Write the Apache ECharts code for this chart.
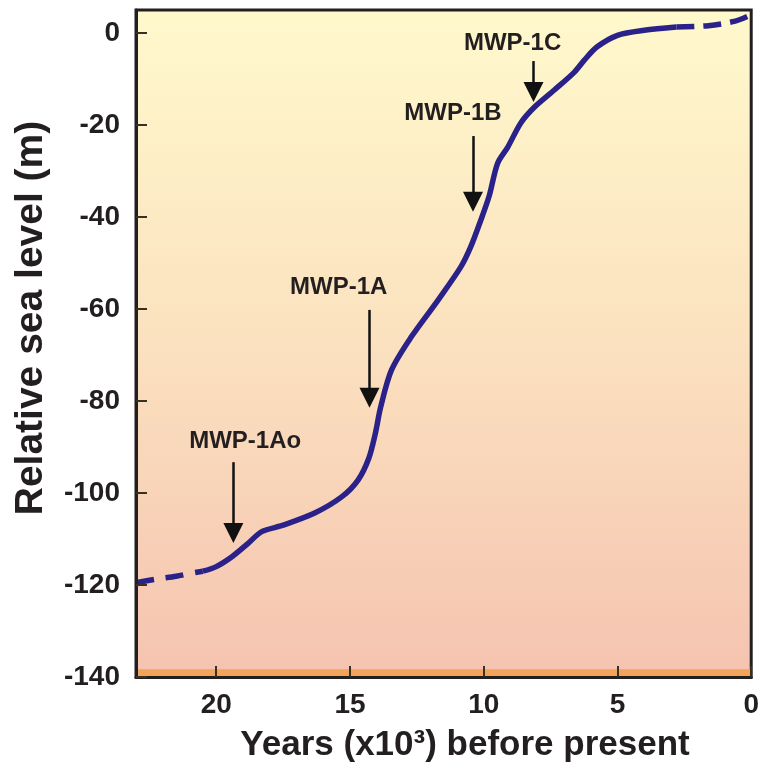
<!DOCTYPE html>
<html><head><meta charset="utf-8">
<script src="https://cdn.jsdelivr.net/npm/echarts@6/dist/echarts.min.js"></script>
<style>html,body{margin:0;padding:0;background:#fff}#c{width:762px;height:768px}</style>
</head><body><div id="c"></div>
<script>
// Tick values
const xTicks = [0, 5, 10, 15, 20];
const yTicks = [0, -20, -40, -60, -80, -100, -120, -140];
// Sea-level curve (age in kyr BP, relative sea level in m)
const earlyDashed = [[23, -119.5], [22.2, -118.7], [21.5, -118.1], [20.9, -117.4], [20.5, -117.0]];
const mainCurve = [[20.5, -117.0], [20.0, -116.0], [19.4, -113.8], [18.8, -110.9], [18.3, -108.4], [17.5, -107.0],
  [16.3, -104.3], [15.3, -100.8], [14.7, -97.2], [14.3, -92.5], [14.05, -87], [13.86, -81.5], [13.45, -73.3],
  [12.7, -66], [11.7, -58], [10.85, -50.8], [10.48, -46.4], [10.11, -40.7], [9.8, -35.5], [9.48, -28.3],
  [9.1, -24.8], [8.62, -19.6], [8.1, -16.1], [7.36, -12.4], [6.61, -8.5], [6.24, -5.9], [5.76, -3.0],
  [5.0, -0.5], [4.0, 0.6], [2.8, 1.3]];
const lateDashed = [[2.8, 1.3], [1.6, 1.6], [0.6, 2.6], [0, 4.0]];
// Meltwater pulse annotations
const eventNames = ['MWP-1Ao', 'MWP-1A', 'MWP-1B', 'MWP-1C'];
const eventAge = [19.36, 14.27, 10.40, 8.14];
const arrowTop = [-93.3, -60.2, -22.4, -6.1];
const arrowHead = [-108.7, -79.3, -36.7, -12.8];
const labelAge = [18.92, 15.42, 11.15, 8.92];
const labelLevel = [-88.7, -55.2, -17.4, -2.2];
// Orange floor band
const bandRange = [-140, -138.3];

const FONT = '"Liberation Sans", Arial, Helvetica, sans-serif';
const INK = '#231f20';
const CURVE = '#2a2289';

const chart = echarts.init(document.getElementById('c'), null, {renderer: 'canvas'});
const option = {
  animation: false,
  grid: {
    left: 136, right: 7, top: 10, bottom: 91,
    show: true, borderColor: INK, borderWidth: 3,
    backgroundColor: {type: 'linear', x: 0, y: 0, x2: 0, y2: 1,
      colorStops: [{offset: 0, color: '#fff9cc'}, {offset: 0.5, color: '#fbe1bf'}, {offset: 1, color: '#f5c3b0'}]}
  },
  xAxis: {
    type: 'value', inverse: true, min: 0, max: 23, z: 10,
    axisLine: {show: true, onZero: false, lineStyle: {color: INK, width: 3}},
    axisTick: {show: true, inside: true, length: 11, customValues: xTicks, lineStyle: {color: '#3a3020', width: 2}},
    axisLabel: {customValues: xTicks, margin: 14, color: INK, fontSize: 28, fontWeight: 'bold', fontFamily: FONT},
    splitLine: {show: false}
  },
  yAxis: {
    type: 'value', min: -140, max: 5, z: 10,
    axisLine: {show: true, onZero: false, lineStyle: {color: INK, width: 3}},
    axisTick: {show: true, inside: true, length: 11, customValues: yTicks, lineStyle: {color: '#3a3020', width: 2}},
    axisLabel: {customValues: yTicks, margin: 16, color: INK, fontSize: 28, fontWeight: 'bold', fontFamily: FONT},
    splitLine: {show: false}
  },
  graphic: [
    {type: 'text', x: 31, y: 318, rotation: Math.PI / 2, z: 10,
      style: {text: 'Relative sea level (m)', fill: INK, font: 'bold 39px ' + FONT, textAlign: 'center', textVerticalAlign: 'middle'}},
    {type: 'text', x: 465, y: 745, z: 10,
      style: {text: 'Years (x10³) before present', fill: INK, font: 'bold 35px ' + FONT, textAlign: 'center', textVerticalAlign: 'middle'}}
  ],
  series: [
    {
      type: 'line', data: earlyDashed, smooth: 0.3, symbol: 'none', silent: true,
      lineStyle: {color: CURVE, width: 5.5, type: [18, 12]},
      markArea: {silent: true, itemStyle: {color: '#f2a45a'},
        data: [[{yAxis: bandRange[0]}, {yAxis: bandRange[1]}]]}
    },
    {
      type: 'line', data: mainCurve, smooth: 0.3, symbol: 'none', silent: true,
      lineStyle: {color: CURVE, width: 5.5},
      markLine: {
        silent: true, symbol: ['none', 'triangle'], symbolSize: 20,
        label: {show: false},
        lineStyle: {color: '#111', width: 2.5, type: 'solid'},
        emphasis: {disabled: true},
        data: eventNames.map((n, i) => [{coord: [eventAge[i], arrowTop[i]]}, {coord: [eventAge[i], arrowHead[i]]}])
      },
      markPoint: {
        silent: true, symbol: 'circle', symbolSize: 1, itemStyle: {color: 'rgba(0,0,0,0)'},
        label: {show: true, position: 'inside', formatter: '{b}', color: INK, fontSize: 24, fontWeight: 'bold', fontFamily: FONT},
        data: eventNames.map((n, i) => ({name: n, coord: [labelAge[i], labelLevel[i]]}))
      }
    },
    {
      type: 'line', data: lateDashed, smooth: 0.3, symbol: 'none', silent: true,
      lineStyle: {color: CURVE, width: 5.5, type: [18, 9]}
    }
  ]
};
chart.setOption(option);
</script>
</body></html>
